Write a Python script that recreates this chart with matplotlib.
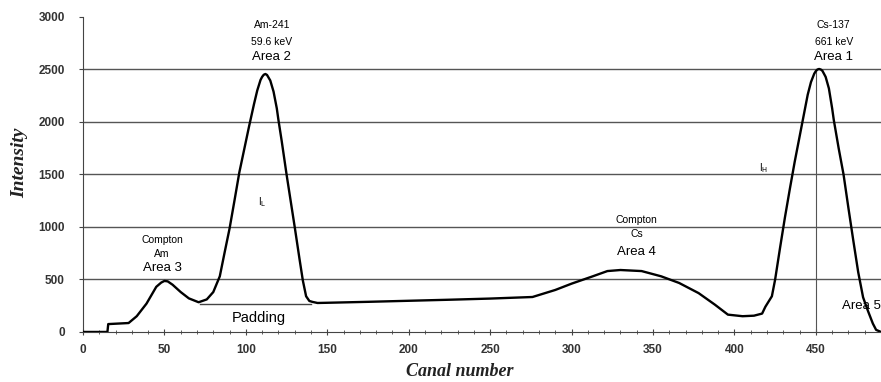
import matplotlib
matplotlib.use("Agg")
import matplotlib.pyplot as plt
from matplotlib.ticker import MultipleLocator

# spectrum
canal = [0, 15, 15.5, 28, 33, 39, 45, 48, 50, 52, 55, 60, 65, 71, 76, 80, 84, 87, 90, 93, 96,
         99, 102, 105, 107, 109, 110, 111, 112, 113, 115, 117, 119, 120, 122, 125, 128, 130,
         133, 135, 137, 139, 141, 144, 150, 175, 200, 225, 250, 276, 290, 300, 313, 322, 330,
         343, 355, 366, 378, 388, 396, 405, 412, 417, 419, 421, 423, 425, 428, 431, 434, 437,
         440, 443, 445, 447, 449, 450, 451, 452, 453, 454, 456, 458, 460, 461, 464, 467, 470,
         473, 476, 479, 482, 485, 487, 490]
intensity = [0, 0, 75, 85, 150, 270, 430, 470, 486, 482, 450, 380, 320, 283, 310, 380, 530,
             760, 985, 1250, 1520, 1740, 1960, 2170, 2300, 2400, 2430, 2450, 2457, 2448, 2395,
             2290, 2130, 2020, 1820, 1500, 1200, 1000, 690, 490, 340, 295, 286, 276, 278, 287,
             297, 307, 318, 333, 400, 460, 530, 580, 590, 580, 530, 467, 370, 260, 165, 150,
             155, 175, 240, 290, 340, 500, 800, 1090, 1360, 1620, 1860, 2100, 2260, 2380, 2460,
             2485, 2500, 2505, 2500, 2488, 2430, 2320, 2130, 2020, 1750, 1500, 1180, 870, 570,
             330, 200, 80, 20, 0]

y_ticks = [0, 500, 1000, 1500, 2000, 2500, 3000]
x_ticks = [0, 50, 100, 150, 200, 250, 300, 350, 400, 450]
padding_x = [72, 140]
padding_y = 265
cs_peak = 450

fig = plt.figure(figsize=(8.81, 3.82), dpi=100)
ax = fig.add_axes([0.0942, 0.131, 0.9058, 0.8245])

for v in y_ticks[1:-1]:
    ax.axhline(v, color="#555555", lw=1.0, zorder=1)

ax.plot(canal, intensity, color="black", lw=1.7, zorder=3, solid_joinstyle="round")
ax.plot(padding_x, [padding_y, padding_y], color="#444444", lw=1.0, zorder=2)
ax.plot([cs_peak, cs_peak], [0, 2500], color="#555555", lw=0.8, zorder=2)

ax.set_xlim(0, 490)
ax.set_ylim(0, 3000)
ax.set_xticks(x_ticks)
ax.set_yticks(y_ticks)
ax.xaxis.set_minor_locator(MultipleLocator(10))
for s in ["top", "right"]:
    ax.spines[s].set_visible(False)
ax.spines["left"].set_color("#444444")
ax.spines["bottom"].set_color("#444444")
ax.tick_params(axis="x", which="major", direction="inout", length=5, color="#444444",
               labelsize=8.5, labelcolor="#333333", pad=6)
ax.tick_params(axis="x", which="minor", direction="inout", length=3, color="#444444")
ax.tick_params(axis="y", direction="out", length=3, color="#444444",
               labelsize=8.5, labelcolor="#333333", pad=10)
for lab in ax.get_xticklabels() + ax.get_yticklabels():
    lab.set_family("Liberation Sans")
    lab.set_fontweight("bold")

sans = "Liberation Sans"
ax.text(116, 2924, "Am-241", ha="center", va="center", fontsize=7.5, family=sans)
ax.text(116, 2762, "59.6 keV", ha="center", va="center", fontsize=7.5, family=sans)
ax.text(116, 2619, "Area 2", ha="center", va="center", fontsize=9.5, family=sans)
ax.text(461, 2924, "Cs-137", ha="center", va="center", fontsize=7.5, family=sans)
ax.text(461, 2762, "661 keV", ha="center", va="center", fontsize=7.5, family=sans)
ax.text(461, 2619, "Area 1", ha="center", va="center", fontsize=9.5, family=sans)
ax.text(48.5, 876, "Compton", ha="center", va="center", fontsize=7.5, family=sans)
ax.text(48.5, 743, "Am", ha="center", va="center", fontsize=7.5, family=sans)
ax.text(48.5, 610, "Area 3", ha="center", va="center", fontsize=9.5, family=sans)
ax.text(340, 1067, "Compton", ha="center", va="center", fontsize=7.5, family=sans)
ax.text(340, 933, "Cs", ha="center", va="center", fontsize=7.5, family=sans)
ax.text(340, 762, "Area 4", ha="center", va="center", fontsize=9.5, family=sans)
ax.text(110, 1238, r"I$_{\rm L}$", ha="center", va="center", fontsize=7, family=sans)
ax.text(418, 1562, r"I$_{\rm H}$", ha="center", va="center", fontsize=7, family=sans)
ax.text(108, 133, "Padding", ha="center", va="center", fontsize=10.5, family=sans)
ax.text(466, 248, "Area 5", ha="left", va="center", fontsize=9.5, family=sans, clip_on=False)

fig.text(460 / 881, 1 - 372 / 382, "Canal number", ha="center", va="center", fontsize=13,
         family="Liberation Serif", style="italic", weight="bold", color="#222222")
fig.text(20 / 881, 1 - 163 / 382, "Intensity", ha="center", va="center", rotation=90,
         fontsize=14, family="Liberation Serif", style="italic", weight="bold", color="#222222")

plt.savefig("out.png", dpi=100)
